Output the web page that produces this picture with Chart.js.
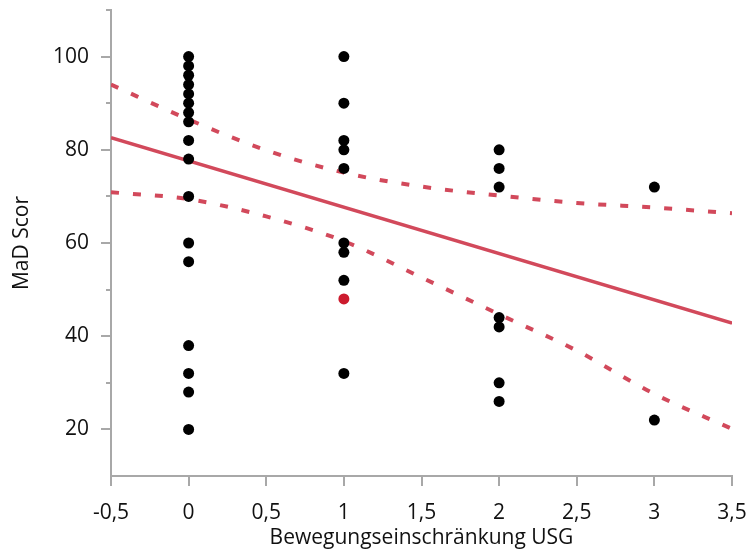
<!DOCTYPE html>
<html lang="de">
<head>
    <meta charset="UTF-8">
    <title>MaD Scor</title>
    <style>
        html, body { margin: 0; padding: 0; background: #fff; }
        #wrap { width: 748px; height: 555px; }
    </style>
    <script src="https://cdn.jsdelivr.net/npm/chart.js"></script>
</head>
<body>
    <div id="wrap"><canvas id="scatterChart"></canvas></div>
    <script>
        // observed scores per restriction level
        var scoresAt0 = [100, 98, 96, 94, 92, 90, 88, 86, 82, 78, 70, 60, 56, 38, 32, 28, 20];
        var scoresAt1 = [100, 90, 82, 80, 76, 60, 58, 52, 32];
        var scoresAt2 = [80, 76, 72, 44, 42, 30, 26];
        var scoresAt3 = [72, 22];
        var highlightX = [1];
        var highlightY = [48];

        // fit line and confidence band
        var fitX = [-0.5, 3.5];
        var fitY = [82.6, 42.8];
        var bandX = [-0.5, 0, 0.5, 1, 1.5, 2, 2.5, 3, 3.5];
        var bandUpper = [94.0, 86.5, 79.9, 75.1, 72.1, 70.2, 68.6, 67.6, 66.4];
        var bandLower = [70.9, 69.4, 65.7, 60.4, 52.6, 44.7, 36.9, 27.6, 20.1];

        var xTicks = [-0.5, 0, 0.5, 1, 1.5, 2, 2.5, 3, 3.5];
        var yTicks = [10, 20, 30, 40, 50, 60, 70, 80, 90, 100];

        var lineColor = "#d2495b";
        var axisColor = "#a8a8a8";
        var fontFamily = "'Open Sans', 'Noto Sans', sans-serif";

        var points = [];
        [[0, scoresAt0], [1, scoresAt1], [2, scoresAt2], [3, scoresAt3]].forEach(g => {
            g[1].forEach(v => points.push({x: g[0], y: v}));
        });

        function pairs(xs, ys) {
            return xs.map((x, i) => ({x: x, y: ys[i]}));
        }

        // short minor ticks on the y axis
        var minorTicks = {
            id: "minorTicks",
            afterDraw(chart) {
                var ctx = chart.ctx;
                var y = chart.scales.y;
                ctx.save();
                ctx.strokeStyle = axisColor;
                ctx.lineWidth = 2;
                [30, 50, 70, 90, 110].forEach(v => {
                    var py = Math.round(y.getPixelForValue(v));
                    ctx.beginPath();
                    ctx.moveTo(y.right - 5, py);
                    ctx.lineTo(y.right, py);
                    ctx.stroke();
                });
                ctx.restore();
            }
        };

        Chart.defaults.font.family = fontFamily;
        Chart.defaults.color = "#111";

        new Chart(document.getElementById("scatterChart"), {
            type: "scatter",
            data: {
                datasets: [
                    {
                        data: pairs(highlightX, highlightY),
                        backgroundColor: "#cc1b2e",
                        borderWidth: 0,
                        pointRadius: 5.5,
                        order: 0
                    },
                    {
                        data: points,
                        backgroundColor: "#000",
                        borderWidth: 0,
                        pointRadius: 5.5,
                        order: 1
                    },
                    {
                        type: "line",
                        data: pairs(fitX, fitY),
                        borderColor: lineColor,
                        borderWidth: 3.5,
                        pointRadius: 0,
                        order: 2
                    },
                    {
                        type: "line",
                        data: pairs(bandX, bandUpper),
                        borderColor: lineColor,
                        borderWidth: 4,
                        borderDash: [8, 14],
                        cubicInterpolationMode: "monotone",
                        pointRadius: 0,
                        order: 3
                    },
                    {
                        type: "line",
                        data: pairs(bandX, bandLower),
                        borderColor: lineColor,
                        borderWidth: 4,
                        borderDash: [8, 14],
                        cubicInterpolationMode: "monotone",
                        pointRadius: 0,
                        order: 3
                    }
                ]
            },
            options: {
                responsive: true,
                maintainAspectRatio: false,
                animation: false,
                layout: { padding: { top: 10, right: 16, left: 0, bottom: 0 } },
                plugins: {
                    legend: { display: false },
                    tooltip: { enabled: false }
                },
                scales: {
                    x: {
                        type: "linear",
                        min: -0.5,
                        max: 3.5,
                        afterBuildTicks: s => { s.ticks = xTicks.map(v => ({value: v})); },
                        afterFit: s => { s.height = 79; s.paddingLeft = 0; s.paddingRight = 0; },
                        ticks: {
                            font: { size: 21 },
                            padding: 14,
                            maxRotation: 0,
                            callback: v => String(v).replace(".", ",")
                        },
                        grid: {
                            drawOnChartArea: false,
                            tickLength: 10,
                            color: axisColor,
                            lineWidth: 2
                        },
                        border: { color: axisColor, width: 2 },
                        title: {
                            display: true,
                            text: "Bewegungseinschränkung USG",
                            font: { size: 21 },
                            padding: { top: 0, bottom: 4 }
                        }
                    },
                    y: {
                        min: 10,
                        max: 110,
                        afterBuildTicks: s => { s.ticks = yTicks.map(v => ({value: v})); },
                        afterFit: s => { s.width = 111; s.paddingTop = 0; s.paddingBottom = 0; },
                        ticks: {
                            font: { size: 21 },
                            padding: 12,
                            callback: v => (v % 20 === 0 ? v : "")
                        },
                        grid: {
                            drawOnChartArea: false,
                            tickLength: 10,
                            lineWidth: 2,
                            color: c => (c.tick && c.tick.value % 20 === 0 ? axisColor : "rgba(0,0,0,0)")
                        },
                        border: { color: axisColor, width: 2 },
                        title: {
                            display: true,
                            text: "MaD Scor",
                            font: { size: 21 },
                            padding: { top: 9, bottom: 0 }
                        }
                    }
                }
            },
            plugins: [minorTicks]
        });
    </script>
</body>
</html>
